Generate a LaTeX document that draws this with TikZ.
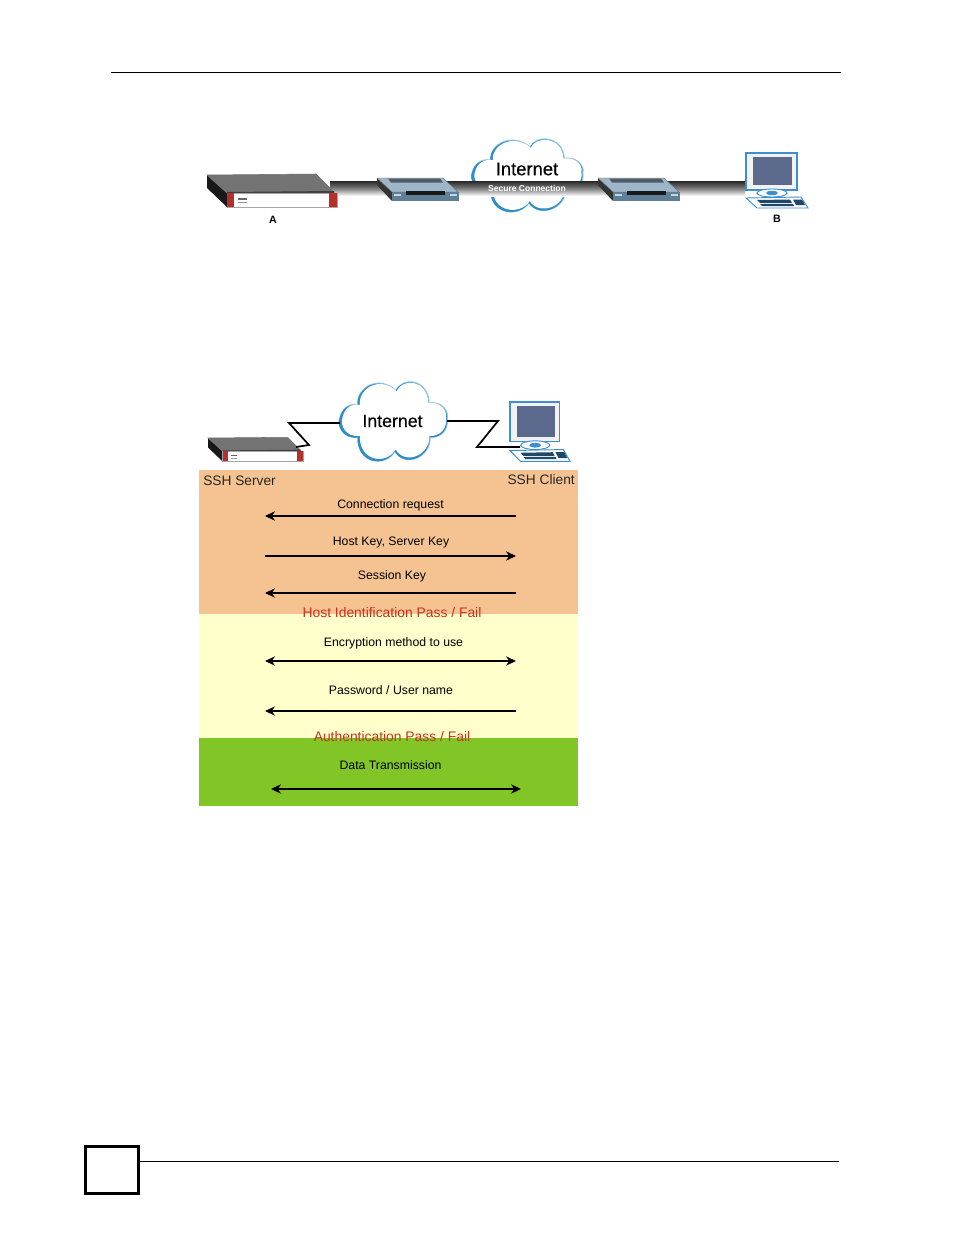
\documentclass[tikz,border=0pt]{standalone}
\usepackage{fontspec}
\setmainfont{Liberation Sans}
\newfontfamily\medfont[FakeBold=0.35]{Liberation Sans}
\usetikzlibrary{arrows.meta}
\definecolor{bandorange}{HTML}{F5C392}
\definecolor{bandyellow}{HTML}{FFFFCC}
\definecolor{bandgreen}{HTML}{82C526}
\definecolor{redtext}{HTML}{C8321E}
\definecolor{cloudblue}{HTML}{2E8CC6}
\definecolor{cloudlight}{HTML}{8FC6E4}
\definecolor{modemtop}{HTML}{9DB6CA}
\definecolor{modemfront}{HTML}{5F7F96}
\definecolor{screenblue}{HTML}{5B6A8C}
\definecolor{pcblue}{HTML}{3D8FD0}
\definecolor{serverred}{HTML}{B5302A}
\newcommand{\cloudpath}{(-35,-16) .. controls (-37,-33) and (-14,-47) .. (3,-30)
  .. controls (8,-44) and (35,-43) .. (36,-18)
  .. controls (50,-20) and (56,-8) .. (54,-3)
  .. controls (56,8) and (48,17) .. (37,16)
  .. controls (38,36) and (12,47) .. (2,30)
  .. controls (-8,47) and (-36,42) .. (-35,16)
  .. controls (-50,18) and (-56,4) .. (-53,-3)
  .. controls (-51,-13) and (-43,-18) .. cycle}
\tikzset{
  x=0.75pt,y=-0.75pt,
  rule/.style={draw=black,line width=0.6pt},
  msg/.style={draw=black,line width=1pt},
  head1/.style={msg,-{Stealth[length=7.5pt,width=7pt]}},
  head2/.style={msg,{Stealth[length=7.5pt,width=7pt]}-{Stealth[length=7.5pt,width=7pt]}},
  msgtext/.style={font=\fontsize{9.2}{11}\selectfont,text=black,inner sep=0pt},
  redlabel/.style={font=\fontsize{10.4}{12}\selectfont,text=redtext,inner sep=0pt},
  sidelabel/.style={font=\fontsize{10.3}{12}\selectfont,text=black!85,inner sep=0pt},
  devlabel/.style={font=\bfseries\fontsize{8}{10}\selectfont,inner sep=0pt},
  cloudlabel/.style={inner sep=0pt,text=black},
  zig/.style={draw=black,line width=1.3pt,line join=miter},
  server/.pic={
    \fill[black!90] (0,0) -- (20,18) -- (20,32) -- (0,13) -- cycle;
    \fill[black!55,draw=black!55] (0,0) -- (109,-1) -- (127,17) -- (20,18) -- cycle;
    \fill[black!75] (20,17) -- (127,16) -- (127,19) -- (20,19) -- cycle;
    \fill[white,draw=black!35,line width=.3pt] (20,18) rectangle (130,32);
    \fill[serverred] (20,18) rectangle (27,32);
    \fill[serverred] (122,18) rectangle (130,32);
    \fill[black!60] (31,23) rectangle (40,25);
    \fill[black!40] (31,27) rectangle (40,28);
  },
  modem/.pic={
    \fill[black!80] (0,0) -- (15,14) -- (15,23) -- (0,7) -- cycle;
    \fill[modemtop,draw=black!60,line width=.3pt] (0,0) -- (66,0) -- (81,14) -- (15,14) -- cycle;
    \fill[modemfront] (15,14) rectangle (82,23);
    \fill[black!50!modemtop] (11,0.5) -- (63,0.5) -- (66,4.5) -- (14,4.5) -- cycle;
    \fill[black!90] (29,13) rectangle (68,17);
    \fill[modemtop!60!white] (17,16) rectangle (24,18);
    \fill[modemtop!60!white] (73,16) rectangle (80,18);
  },
  pcunit/.pic={
    \fill[black!5,draw=pcblue,line width=.8pt] (0,0) rectangle (51,37);
    \fill[screenblue] (7,4) rectangle (46,32);
    \fill[white,draw=pcblue,line width=.7pt] (26,40) ellipse (15 and 4);
    \fill[pcblue] (26,40) ellipse (6 and 2.2);
    \fill[white,draw=pcblue,line width=.7pt] (0,45) -- (55,44) -- (62,55) -- (11,55) -- cycle;
    \fill[black!50!pcblue] (11,47) -- (44,46.5) -- (46,50) -- (14,50) -- cycle;
    \fill[black!50!pcblue] (14,51) -- (47,51) -- (48,53) -- (16,53) -- cycle;
    \fill[black!50!pcblue] (47,46.5) -- (56,46.5) -- (59,52) -- (50,52) -- cycle;
  },
  netcloud/.pic={
    \fill[cloudlight,draw=cloudlight,line width=1pt] \cloudpath;
    \fill[cloudblue,xshift=-0.3pt,yshift=-0.3pt] \cloudpath;
    \fill[white,xshift=0.5pt,yshift=0.45pt,scale=.965] \cloudpath;
  },
}
\begin{document}
\begin{tikzpicture}
\useasboundingbox (0,0) rectangle (954,1235);
\fill[white] (0,0) rectangle (954,1235);
% page furniture
\coordinate (ruleTopL) at (111,72);
\coordinate (ruleTopR) at (841,72);
\draw[rule] (ruleTopL) -- (ruleTopR);
\node[draw=black,line width=2.2pt,minimum width=40pt,minimum height=35pt,inner sep=0pt,outer sep=0pt,anchor=north west] (pagebox) at (85.5,1146.5) {};
\coordinate (ruleBotR) at (839,1161);
\draw[rule] (pagebox.east |- ruleBotR) -- (ruleBotR);
% top diagram
\pic at (527,175) [xscale=1.03,yscale=.92] {netcloud};
\shade[top color=black!85,bottom color=white,middle color=black!50] (330,181) rectangle (745,196);
\pic at (207,175) {server};
\pic at (377,178) {modem};
\pic at (598,178) {modem};
\pic at (746,153) {pcunit};
\node[cloudlabel,font=\medfont\fontsize{13.8}{16}\selectfont] (inet1) at (527,169) {Internet};
\node[inner sep=0pt,text=white,font=\bfseries\fontsize{6.4}{8}\selectfont] (secure) at (527,188) {Secure Connection};
\node[devlabel] (labA) at (273,220) {A};
\node[devlabel] (labB) at (777,219) {B};
% lower diagram: header devices
\pic at (208,438) [scale=.73] {server};
\pic at (510,402) [xscale=.97,yscale=1.08] {pcunit};
\pic at (393,421) {netcloud};
\coordinate (cloudL) at (340,423);
\coordinate (zigLa) at (289,423);
\coordinate (zigLb) at (309,445);
\coordinate (srvEnd) at (296,447);
\coordinate (cloudR) at (447,421);
\coordinate (zigRa) at (498,421);
\coordinate (zigRb) at (477,447);
\coordinate (pcEnd) at (520,447);
\draw[zig] (cloudL) -- (zigLa) -- (zigLb) -- (srvEnd);
\draw[zig] (cloudR) -- (zigRa) -- (zigRb) -- (pcEnd);
\node[cloudlabel,font=\medfont\fontsize{13.3}{16}\selectfont] (inet2) at (392.5,421) {Internet};
% colour bands
\fill[bandorange] (199,470) rectangle (578,614);
\fill[bandyellow] (199,614) rectangle (578,738);
\fill[bandgreen] (199,738) rectangle (578,806);
\node[sidelabel,anchor=west] (ssrv) at (203,480.5) {SSH Server};
\node[sidelabel,anchor=east] (scli) at (575,479.5) {SSH Client};
% message coordinates
\coordinate (a1r) at (516,516);  \coordinate (a1l) at (265,516);
\coordinate (a2r) at (516,556);  \coordinate (a2l) at (265,556);
\coordinate (a3r) at (516,593);  \coordinate (a3l) at (265,593);
\coordinate (a4r) at (516,661);  \coordinate (a4l) at (265,661);
\coordinate (a5r) at (516,711);  \coordinate (a5l) at (265,711);
\coordinate (a6r) at (521,789);  \coordinate (a6l) at (271,789);
\draw[head1] (a1r) -- (a1l);
\draw[head1] (a2l) -- (a2r);
\draw[head1] (a3r) -- (a3l);
\draw[head2] (a4l) -- (a4r);
\draw[head1] (a5r) -- (a5l);
\draw[head2] (a6l) -- (a6r);
\node[msgtext] (m1) at (390.5,505) {Connection request};
\node[msgtext] (m2) at (391,542) {Host Key, Server Key};
\node[msgtext] (m3) at (392,576.5) {Session Key};
\node[redlabel] (r1) at (392,613) {Host Identification Pass / Fail};
\node[msgtext] (m4) at (393.5,643.5) {Encryption method to use};
\node[msgtext] (m5) at (391,690) {Password / User name};
\node[redlabel] (r2) at (392,736.5) {Authentication Pass / Fail};
\node[msgtext] (m6) at (390.5,765) {Data Transmission};
\end{tikzpicture}
\end{document}
